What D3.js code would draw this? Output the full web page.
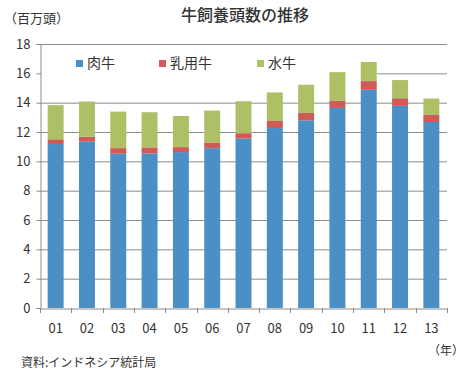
<!DOCTYPE html>
<html>
<head>
<meta charset="utf-8">
<script src="https://cdn.jsdelivr.net/npm/d3@7"></script>
<style>
  body { margin: 0; background: #fff; }
  text { font-family: "Noto Sans CJK JP", "Noto Sans", sans-serif; fill: #333; }
</style>
</head>
<body>
<div id="viz"></div>
<script>
const years = ['01', '02', '03', '04', '05', '06', '07', '08', '09', '10', '11', '12', '13'];
const beef = [11.18, 11.34, 10.52, 10.54, 10.63, 10.90, 11.55, 12.27, 12.80, 13.64, 14.88, 13.78, 12.68];
const dairy = [0.32, 0.34, 0.38, 0.41, 0.34, 0.39, 0.37, 0.48, 0.50, 0.48, 0.59, 0.52, 0.48];
const buffalo = [2.33, 2.40, 2.49, 2.40, 2.12, 2.17, 2.18, 1.95, 1.92, 1.96, 1.30, 1.24, 1.12];
const seriesNames = ['肉牛', '乳用牛', '水牛'];
const colors = ['#4a8fc6', '#cf5a57', '#adc066'];
const yTicks = [0, 2, 4, 6, 8, 10, 12, 14, 16, 18];

const width = 463, height = 377;
const margin = {top: 44, right: 16, bottom: 69, left: 40};

const rows = years.map((y, i) => ({year: y, beef: beef[i], dairy: dairy[i], buffalo: buffalo[i]}));
const stack = d3.stack().keys(['beef', 'dairy', 'buffalo'])(rows);

const x = d3.scaleBand()
  .domain(years)
  .range([margin.left, width - margin.right])
  .paddingInner(0.49)
  .paddingOuter(0.245);
const y = d3.scaleLinear()
  .domain([0, 18])
  .range([height - margin.bottom, margin.top]);

const svg = d3.select('#viz').append('svg')
  .attr('width', width)
  .attr('height', height);

// gridlines
svg.append('g')
  .selectAll('line')
  .data(yTicks.filter(d => d > 0))
  .join('line')
  .attr('x1', margin.left)
  .attr('x2', width - margin.right)
  .attr('y1', d => y(d) + 0.5)
  .attr('y2', d => y(d) + 0.5)
  .attr('stroke', '#8c8c8c')
  .attr('stroke-width', 1);

// legend background hides the 16 gridline
svg.append('rect')
  .attr('x', margin.left + 1)
  .attr('y', y(17.6))
  .attr('width', 377 - margin.left - 1)
  .attr('height', y(14.4) - y(17.6))
  .attr('fill', '#fff');

// bars
svg.append('g')
  .selectAll('g')
  .data(stack)
  .join('g')
  .attr('fill', (d, i) => colors[i])
  .selectAll('rect')
  .data(d => d)
  .join('rect')
  .attr('x', d => x(d.data.year))
  .attr('y', d => y(d[1]))
  .attr('width', x.bandwidth())
  .attr('height', d => y(d[0]) - y(d[1]));

// y axis
const yAxis = svg.append('g')
  .attr('transform', `translate(${margin.left + 0.5},0)`)
  .call(d3.axisLeft(y).tickValues(yTicks).tickSize(4).tickPadding(6).tickFormat(d3.format('d')));
yAxis.select('.domain').attr('stroke', '#8c8c8c');
yAxis.selectAll('.tick line').attr('stroke', '#8c8c8c');
yAxis.selectAll('text').attr('font-size', 13).attr('fill', '#333')
  .attr('font-family', '"Noto Sans CJK JP", sans-serif');

// x axis, ticks between categories
const xAxis = svg.append('g')
  .attr('transform', `translate(0,${height - margin.bottom + 0.5})`)
  .call(d3.axisBottom(x).tickSize(0).tickPadding(15));
xAxis.select('.domain').attr('stroke', '#8c8c8c');
xAxis.selectAll('text').attr('font-size', 13).attr('fill', '#333')
  .attr('font-family', '"Noto Sans CJK JP", sans-serif');
const step = x.step();
svg.append('g')
  .selectAll('line')
  .data(d3.range(years.length + 1))
  .join('line')
  .attr('x1', i => Math.round(margin.left + i * step) + 0.5)
  .attr('x2', i => Math.round(margin.left + i * step) + 0.5)
  .attr('y1', height - margin.bottom)
  .attr('y2', height - margin.bottom + 5)
  .attr('stroke', '#8c8c8c');

// legend
const legendX = [76, 159, 257];
const legend = svg.append('g')
  .selectAll('g')
  .data(seriesNames)
  .join('g')
  .attr('transform', (d, i) => `translate(${legendX[i]},60)`);
legend.append('rect')
  .attr('width', 7)
  .attr('height', 7)
  .attr('fill', (d, i) => colors[i]);
legend.append('text')
  .attr('x', 11)
  .attr('y', 8)
  .attr('font-size', 14)
  .text(d => d);

// titles and notes
svg.append('text')
  .attr('x', 245)
  .attr('y', 21)
  .attr('text-anchor', 'middle')
  .attr('font-size', 16)
  .attr('font-weight', 500)
  .text('牛飼養頭数の推移');
svg.append('text')
  .attr('x', 4)
  .attr('y', 23)
  .attr('font-size', 13)
  .text('（百万頭）');
svg.append('text')
  .attr('x', 428)
  .attr('y', 355)
  .attr('font-size', 12)
  .text('（年）');
svg.append('text')
  .attr('x', 21)
  .attr('y', 367)
  .attr('font-size', 12)
  .text('資料:インドネシア統計局');
</script>
</body>
</html>
